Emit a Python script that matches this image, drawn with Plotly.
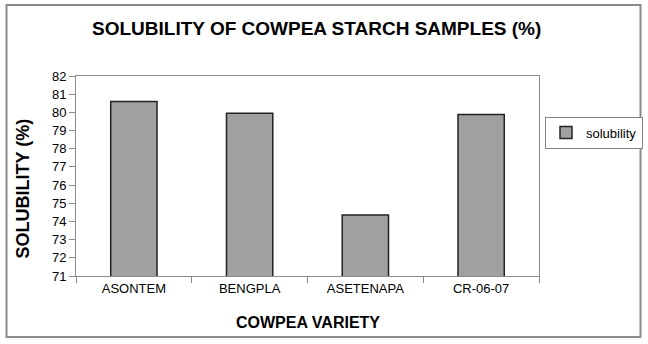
import plotly.graph_objects as go

categories = ["ASONTEM", "BENGPLA", "ASETENAPA", "CR-06-07"]
solubility = [80.6, 79.95, 74.35, 79.88]
y_ticks = list(range(71, 83))

L, R, T, B = 76, 109, 76, 68
W, H = 648, 344
pw, ph = W - L - R, H - T - B

def px(x):
    return (x - L) / pw

def py(y):
    return (H - B - y) / ph

fig = go.Figure()
fig.add_trace(go.Bar(
    x=categories, y=solubility, name="solubility",
    marker=dict(color="#a0a0a0", line=dict(color="#222222", width=1.5)),
    width=0.4,
))

font_family = "Liberation Sans, Arial, sans-serif"

fig.update_layout(
    width=W, height=H,
    margin=dict(l=L, r=R, t=T, b=B, pad=0, autoexpand=False),
    paper_bgcolor="white", plot_bgcolor="white",
    showlegend=True,
    font=dict(family=font_family, color="#000000", size=12),
    legend=dict(
        x=px(545), y=py(116.5), xanchor="left", yanchor="top",
        bordercolor="#808080", borderwidth=1, bgcolor="white",
        font=dict(size=13), itemwidth=30,
        tracegroupgap=0,
    ),
    xaxis=dict(
        showline=True, linecolor="#8c8c8c", linewidth=1, mirror=True,
        ticks="outside", tickson="boundaries", ticklen=6, tickcolor="#8c8c8c",
        tickfont=dict(size=13), showgrid=False,
    ),
    yaxis=dict(
        range=[71, 82], tickvals=y_ticks,
        showline=True, linecolor="#8c8c8c", linewidth=1, mirror=True,
        ticks="outside", ticklen=6, tickcolor="#8c8c8c",
        tickfont=dict(size=13), showgrid=False, zeroline=False,
    ),
    annotations=[
        dict(text="<b>SOLUBILITY OF COWPEA STARCH SAMPLES (%)</b>",
             x=px(316), y=py(28), xref="paper", yref="paper",
             xanchor="center", yanchor="middle", showarrow=False,
             font=dict(size=19)),
        dict(text="<b>COWPEA VARIETY</b>",
             x=px(307.5), y=py(322), xref="paper", yref="paper",
             xanchor="center", yanchor="middle", showarrow=False,
             font=dict(size=16)),
        dict(text="<b>SOLUBILITY (%)</b>",
             x=px(22.5), y=py(189), xref="paper", yref="paper",
             xanchor="center", yanchor="middle", showarrow=False,
             textangle=-90, font=dict(size=18)),
    ],
    shapes=[
        dict(type="rect", xref="paper", yref="paper",
             x0=px(6.5), x1=px(640.5), y0=py(337), y1=py(5),
             line=dict(color="#8c8c8c", width=2), layer="below"),
    ],
)

fig.write_html("out.html",
               config={"displayModeBar": False},
               post_script="document.body.style.margin='0';document.body.style.overflow='hidden';")
